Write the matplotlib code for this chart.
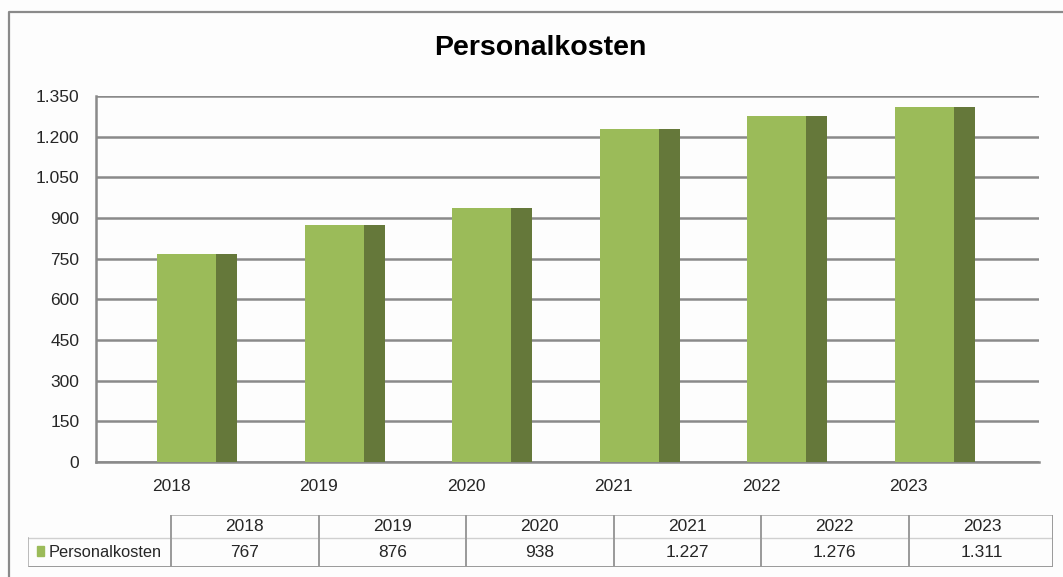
import matplotlib.pyplot as plt
import numpy as np
from matplotlib.lines import Line2D
from matplotlib.patches import Rectangle

# data
years = ["2018", "2019", "2020", "2021", "2022", "2023"]
kosten = [767, 876, 938, 1227, 1276, 1311]
series_name = "Personalkosten"
y_ticks = [0, 150, 300, 450, 600, 750, 900, 1050, 1200, 1350]

front_col = "#9bbb59"
side_col = "#65783a"
grid_col = "#8a8a8a"
text_col = "#262626"

plt.rcParams['font.family'] = ['Liberation Sans', 'DejaVu Sans']


def de_fmt(v):
    # german thousands separator
    return f"{v:,}".replace(",", ".")


W, H = 1063, 577
fig = plt.figure(figsize=(W / 100, H / 100), dpi=100, facecolor="#fdfdfd")

# pixel helpers (layout only)
def fx(px):
    return px / W


def fy(py):
    return 1 - py / H


# outer chart frame (left and top edge visible)
fig.add_artist(Line2D([fx(9), fx(9), fx(W)], [fy(H), fy(12), fy(12)],
                      transform=fig.transFigure, color="#8a8a8a", lw=1.6))

fig.text(fx(540), fy(48), "Personalkosten", ha="center", va="center",
         fontsize=20.5, fontweight="bold", color="black")

# main plot, category step 147.5 px, first tick at 171 px
step = 147.5
x0 = 171
ax = fig.add_axes([fx(96), fy(462), fx(1039) - fx(96), fy(96) - fy(462)])
ax.set_facecolor("#fdfdfd")
x = np.arange(len(years))
off = -14 / step
fw = 59 / step
sw = 21 / step
ax.bar(x + off, kosten, width=fw, align="edge", color=front_col, zorder=3)
ax.bar(x + off + fw, kosten, width=sw, align="edge", color=side_col, zorder=3)

ax.set_xlim((96 - x0) / step, (1039 - x0) / step)
ax.set_ylim(0, 1350)
ax.set_yticks(y_ticks, [de_fmt(v) for v in y_ticks])
ax.set_xticks(x, years)
ax.tick_params(axis="y", length=0, pad=12, labelsize=12.5, labelcolor=text_col)
ax.tick_params(axis="x", length=0, pad=12, labelsize=12.5, labelcolor=text_col)
ax.yaxis.grid(True, color=grid_col, lw=1.8, zorder=0)
for s in ["top", "right"]:
    ax.spines[s].set_visible(False)
for s in ["left", "bottom"]:
    ax.spines[s].set_color(grid_col)
    ax.spines[s].set_linewidth(1.8)

# data table below the chart
tx0, tx1 = 28, 1053
tab = fig.add_axes([fx(tx0), fy(567), fx(tx1) - fx(tx0), fy(515) - fy(567)])
tab.set_xlim((tx0 - x0) / step, (tx1 - x0) / step)
tab.set_ylim(0, 52)
tab.axis("off")
mid = 29
right = (tx1 - x0) / step
left = (tx0 - x0) / step
lc = "#9a9a9a"
tab.plot([0, right], [52, 52], color="#b0b0b0", lw=1.2)
tab.plot([left, right], [mid, mid], color="#d0d0d0", lw=1.0)
tab.plot([left, right], [0, 0], color=lc, lw=1.4)
tab.plot([left, left], [0, mid], color="#b0b0b0", lw=1.2)
for i in range(len(years)):
    tab.plot([i, i], [0, 52], color=lc, lw=1.4)
tab.plot([right, right], [0, 52], color=lc, lw=1.4)
for i, (yr, v) in enumerate(zip(years, kosten)):
    tab.text(i + 0.5, 40.5, yr, ha="center", va="center", fontsize=12.5,
             color=text_col)
    tab.text(i + 0.5, 14.5, de_fmt(v), ha="center", va="center", fontsize=12.5,
             color=text_col)
tab.add_patch(Rectangle(((37 - x0) / step, 11), 7 / step, 10,
                        color=front_col, clip_on=False))
tab.text((49 - x0) / step, 14.5, series_name, ha="left", va="center",
         fontsize=11.8, color=text_col)

fig.savefig("out.png", dpi=100, facecolor=fig.get_facecolor())
